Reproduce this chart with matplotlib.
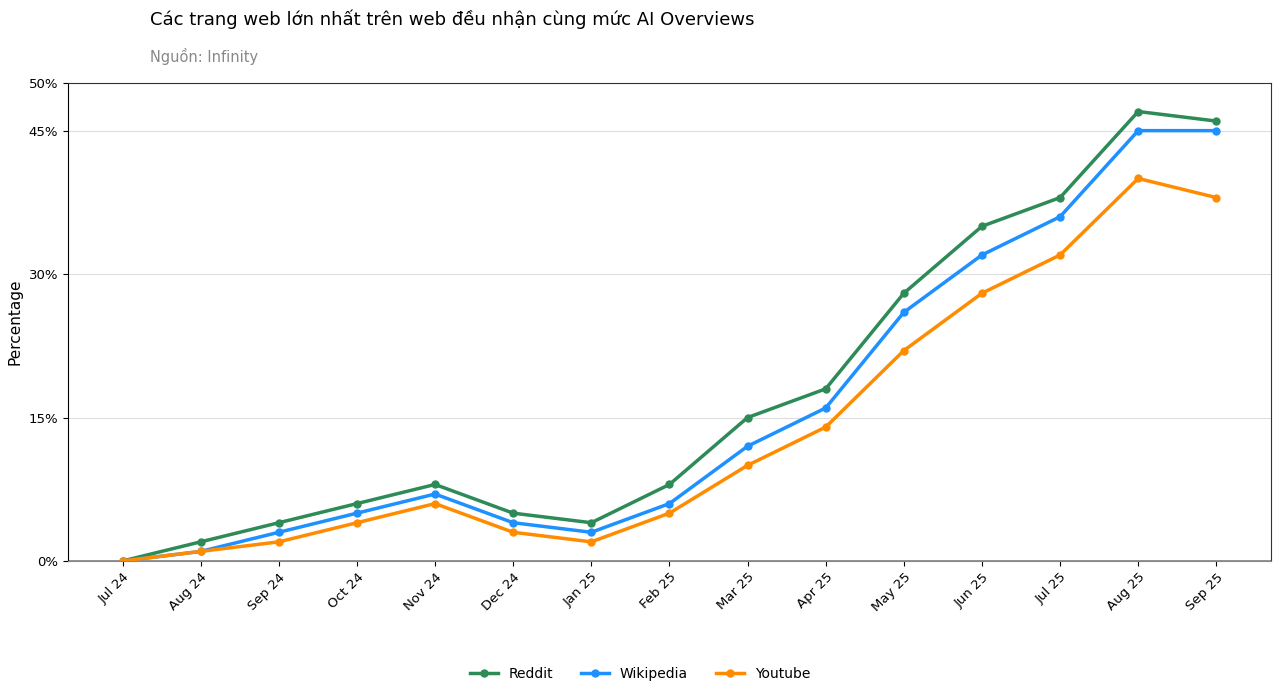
import matplotlib
matplotlib.use("Agg")
import matplotlib.pyplot as plt
from matplotlib.ticker import FuncFormatter

months = ["Jul 24", "Aug 24", "Sep 24", "Oct 24", "Nov 24", "Dec 24", "Jan 25", "Feb 25",
          "Mar 25", "Apr 25", "May 25", "Jun 25", "Jul 25", "Aug 25", "Sep 25"]
reddit = [0, 2, 4, 6, 8, 5, 4, 8, 15, 18, 28, 35, 38, 47, 46]
wikipedia = [0, 1, 3, 5, 7, 4, 3, 6, 12, 16, 26, 32, 36, 45, 45]
youtube = [0, 1, 2, 4, 6, 3, 2, 5, 10, 14, 22, 28, 32, 40, 38]
yticks = [0, 15, 30, 45, 50]

fig = plt.figure(figsize=(12.8, 6.96), dpi=100)
ax = fig.add_axes([0.053, 0.194, 0.940, 0.687])

x = list(range(len(months)))
ax.plot(x, reddit, color="#2E8B57", lw=2.5, marker="o", ms=5, label="Reddit")
ax.plot(x, wikipedia, color="#1E90FF", lw=2.5, marker="o", ms=5, label="Wikipedia")
ax.plot(x, youtube, color="#FF8C00", lw=2.5, marker="o", ms=5, label="Youtube")

ax.set_ylim(0, 50)
ax.set_yticks(yticks)
ax.yaxis.set_major_formatter(FuncFormatter(lambda v, p: f"{v:.0f}%"))
ax.set_xticks(x)
ax.set_xticklabels(months, rotation=45, ha="right", rotation_mode="anchor")
ax.tick_params(labelsize=9.5)
ax.grid(axis="y", color="#dddddd", lw=0.8)
ax.set_axisbelow(True)
ax.axhline(0, color="#888888", lw=2, zorder=1)
ax.set_ylabel("Percentage", fontsize=11)
for s in ["top", "right"]:
    ax.spines[s].set_color("#333333")
ax.spines["bottom"].set_color("#888888")

fig.text(0.117, 0.972, "Các trang web lớn nhất trên web đều nhận cùng mức AI Overviews",
         fontsize=13, va="center", ha="left")
fig.text(0.117, 0.919, "Nguồn: Infinity", fontsize=10.5, color="#888888", va="center", ha="left")

fig.legend(loc="center", bbox_to_anchor=(0.5, 0.032), ncol=3, frameon=False, fontsize=10)

fig.savefig("out.png", dpi=100)
